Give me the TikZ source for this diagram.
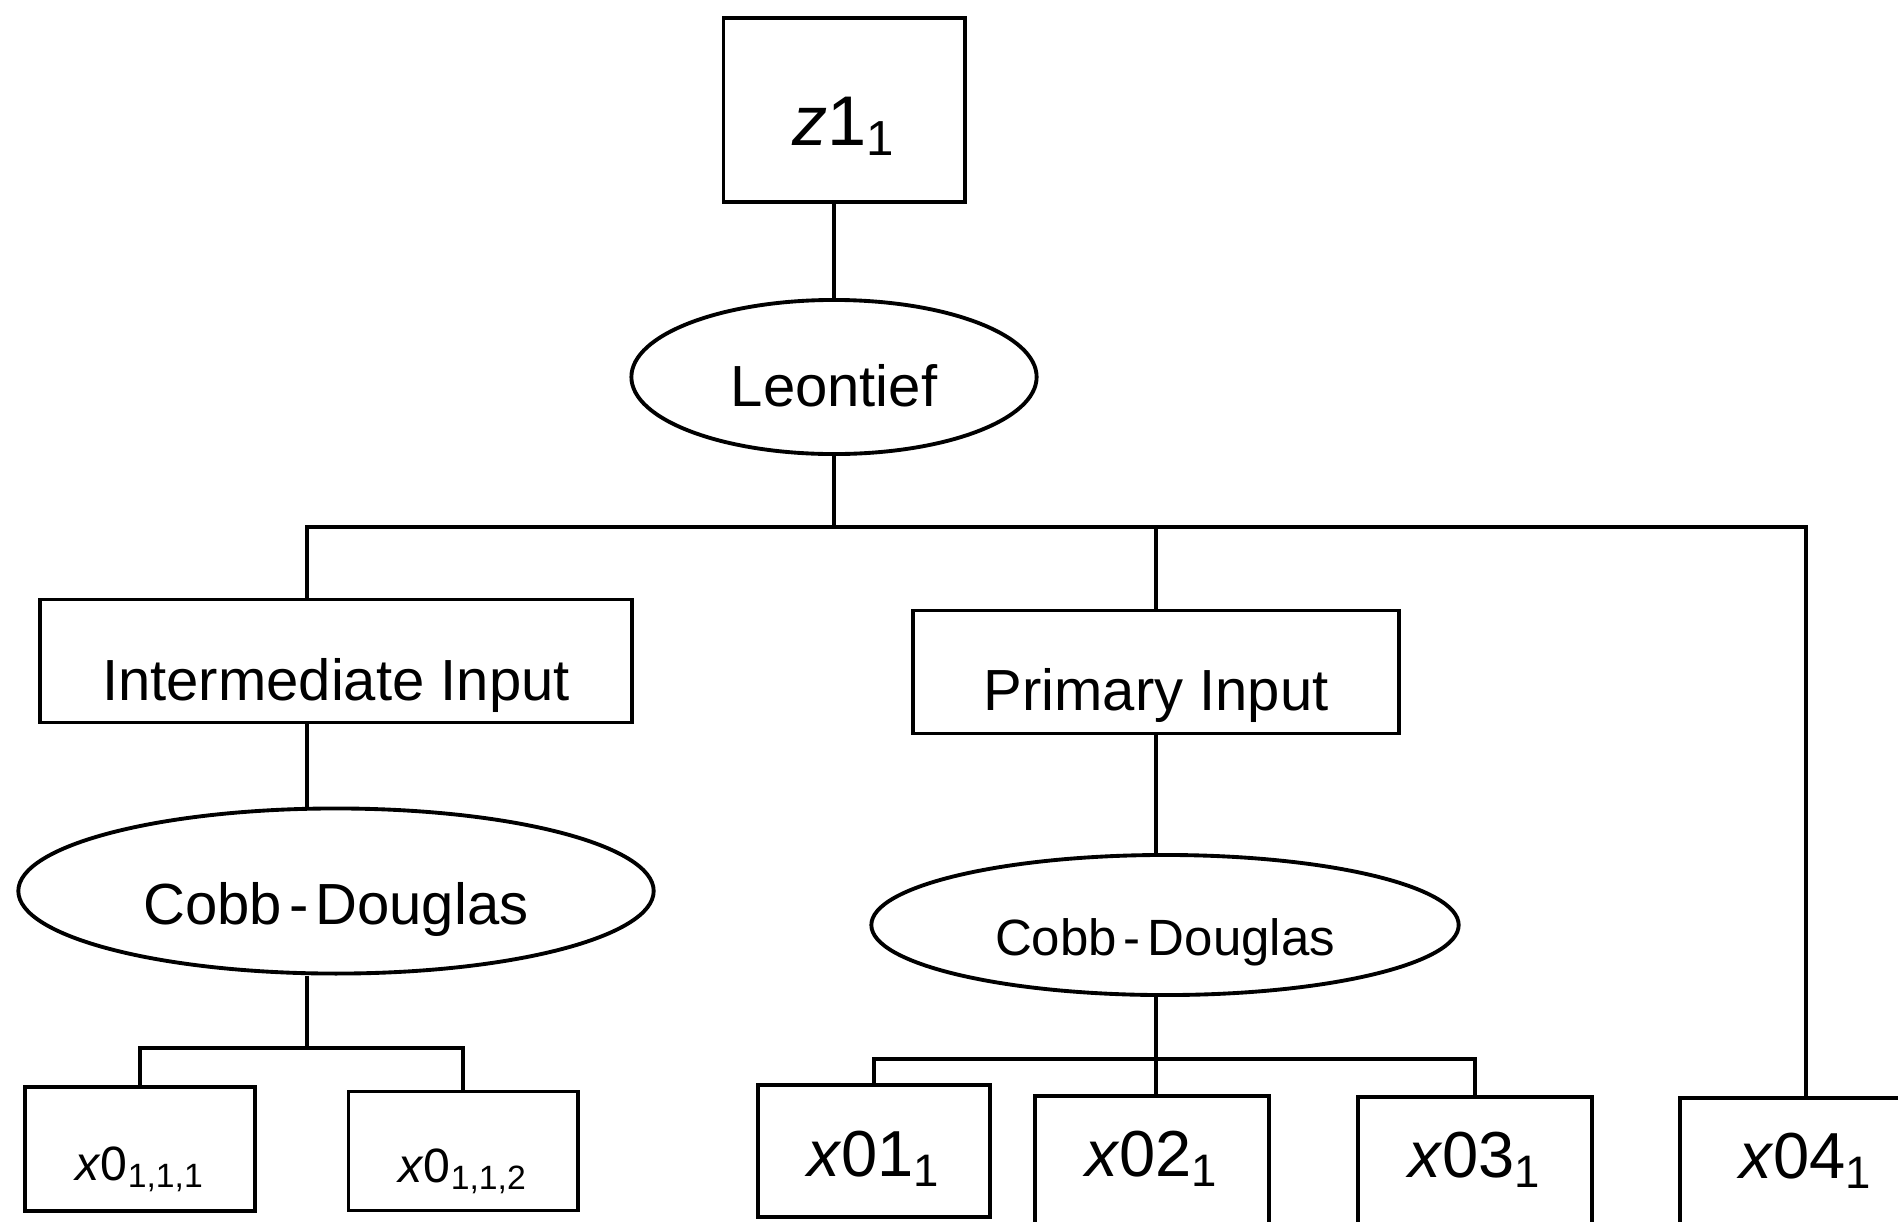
\documentclass[tikz,border=0pt]{standalone}
\usepackage{fontspec}
\setmainfont{Liberation Sans}
\usetikzlibrary{shapes.geometric, calc}

\newcommand{\vlab}[3]{\textit{#1}#2\textsubscript{#3}}

\tikzset{
  box/.style={draw, line width=1.1pt, rectangle, inner sep=0pt, font=\fontsize{16.5}{20}\selectfont},
  oval/.style={draw, line width=1.1pt, ellipse, inner sep=0pt, font=\fontsize{16.5}{20}\selectfont},
  leaf/.style={box, text height=0.75cm, text depth=0.13cm, font=\fontsize{13.7}{16}\selectfont},
  bigleaf/.style={box, text height=0.6cm, text depth=0.1cm, font=\fontsize{18.5}{22}\selectfont},
  link/.style={line width=0.9pt},
}

\begin{document}
\begin{tikzpicture}[x=0.01cm, y=-0.01cm]
      \useasboundingbox (0,0) rectangle (1898,1221);

      % top of the tree
      \node[box, minimum width=2.41cm, minimum height=1.84cm, text height=0.7cm, text depth=0cm, font=\fontsize{20}{24}\selectfont] (top) at (844,110) {\vlab{z}{1}{1}};
      \node[oval, minimum width=4.05cm, minimum height=1.54cm, text height=0.59cm, text depth=0cm] (leo) at (834,377) {Leontief};

      % nests
      \node[box, minimum width=5.92cm, minimum height=1.23cm, text height=0.9cm, text depth=0.12cm] (ii) at (336,661) {Intermediate Input};
      \node[box, minimum width=4.86cm, minimum height=1.23cm, text height=0.88cm, text depth=0.12cm] (pi) at (1156,672) {Primary Input};
      \node[oval, minimum width=6.35cm, minimum height=1.65cm, text height=0.78cm, text depth=0.12cm] (cd1) at (336,891) {Cobb\kern2pt-\kern2pt Douglas};
      \node[oval, minimum width=5.87cm, minimum height=1.40cm, text height=0.72cm, text depth=0.105cm, font=\fontsize{14.5}{18}\selectfont] (cd2) at (1165,925) {Cobb\kern2pt-\kern2pt Douglas};

      % inputs
      \node[leaf, minimum width=2.30cm, minimum height=1.24cm] (x111) at (140,1149) {\vlab{x}{0}{1,1,1}};
      \node[leaf, minimum width=2.29cm, minimum height=1.19cm] (x112) at (463,1151) {\vlab{x}{0}{1,1,2}};
      \node[bigleaf, minimum width=2.32cm, minimum height=1.32cm] (x01) at (874,1151) {\vlab{x}{01}{1}};
      \node[bigleaf, minimum width=2.34cm, minimum height=1.30cm, text height=0.4cm] (x02) at (1152,1161) {\vlab{x}{02}{1}};
      \node[bigleaf, minimum width=2.34cm, minimum height=1.30cm, text height=0.4cm] (x03) at (1475,1162) {\vlab{x}{03}{1}};
      \node[bigleaf, minimum width=2.52cm, minimum height=1.30cm, text height=0.4cm] (x04) at (1806,1163) {\vlab{x}{04}{1}};

      % junctions
      \coordinate (j0) at (834,527);
      \coordinate (j1) at (307,1048);
      \coordinate (j2) at (1156,1059);

      \draw[link] (leo.north) -- (leo.north |- top.south);
      \draw[link] (leo.south) -- (j0);
      \draw[link] (ii.north -| j1) |- (j0) -| (x04.north);
      \draw[link] (pi.north) -- (pi.north |- j0);

      \draw[link] (ii.south -| j1) -- (cd1.north -| j1);
      \draw[link] (cd1.south -| j1) -- (j1);
      \draw[link] (x111.north) |- (j1) -| (x112.north);

      \draw[link] (pi.south) -- (pi.south |- cd2.north);
      \draw[link] (cd2.south -| j2) -- (j2);
      \draw[link] (x01.north) |- (j2) -| (x03.north);
      \draw[link] (x02.north -| j2) -- (j2);
    \end{tikzpicture}
\end{document}
